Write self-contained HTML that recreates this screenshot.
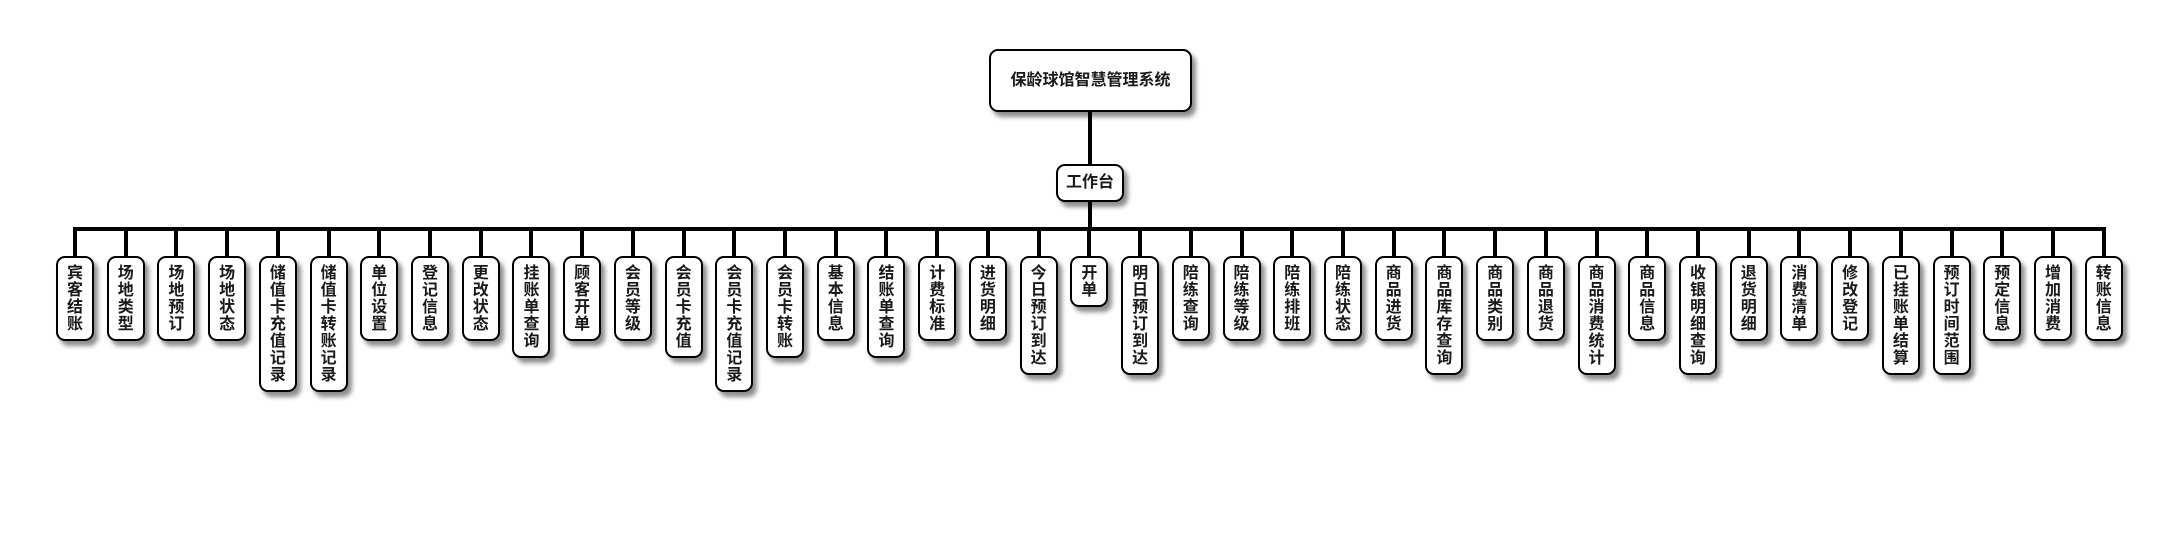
<!DOCTYPE html>
<html><head><meta charset="utf-8"><style>
html,body{margin:0;padding:0;background:#fff;}
body{width:2180px;height:560px;position:relative;overflow:hidden;font-family:"Liberation Sans","Noto Sans CJK SC",sans-serif;font-weight:bold;color:#1a1a1a;}
.box{position:absolute;background:#fff;border:2px solid #000;border-radius:9px;box-sizing:border-box;box-shadow:4px 5px 5px rgba(0,0,0,0.45);text-align:center;}
.line{position:absolute;background:#000;}
.row{position:absolute;left:49.64px;top:229px;display:flex;}
.col{width:50.725px;position:relative;display:flex;flex-direction:column;align-items:center;}
.stub{width:4px;height:29px;background:#000;margin-top:-2px;}
.n{width:38px;border:2px solid #000;border-radius:9px;box-sizing:border-box;background:#fff;box-shadow:4px 5px 5px rgba(0,0,0,0.45);padding:6.5px 8px;font-size:16px;line-height:17px;word-break:break-all;text-align:center;}
</style></head><body>
<div class="box" style="left:989px;top:49px;width:203px;height:63px;font-size:16px;line-height:59px;">保龄球馆智慧管理系统</div>
<div class="line" style="left:1088px;top:112px;width:4px;height:52px;"></div>
<div class="box" style="left:1056px;top:164px;width:68px;height:38px;font-size:16px;line-height:34px;">工作台</div>
<div class="line" style="left:1088px;top:202px;width:4px;height:27px;"></div>
<div class="line" style="left:73px;top:227px;width:2033px;height:4px;"></div>
<div class="row">
<div class="col"><div class="stub"></div><div class="n">宾客结账</div></div>
<div class="col"><div class="stub"></div><div class="n">场地类型</div></div>
<div class="col"><div class="stub"></div><div class="n">场地预订</div></div>
<div class="col"><div class="stub"></div><div class="n">场地状态</div></div>
<div class="col"><div class="stub"></div><div class="n">储值卡充值记录</div></div>
<div class="col"><div class="stub"></div><div class="n">储值卡转账记录</div></div>
<div class="col"><div class="stub"></div><div class="n">单位设置</div></div>
<div class="col"><div class="stub"></div><div class="n">登记信息</div></div>
<div class="col"><div class="stub"></div><div class="n">更改状态</div></div>
<div class="col"><div class="stub"></div><div class="n">挂账单查询</div></div>
<div class="col"><div class="stub"></div><div class="n">顾客开单</div></div>
<div class="col"><div class="stub"></div><div class="n">会员等级</div></div>
<div class="col"><div class="stub"></div><div class="n">会员卡充值</div></div>
<div class="col"><div class="stub"></div><div class="n">会员卡充值记录</div></div>
<div class="col"><div class="stub"></div><div class="n">会员卡转账</div></div>
<div class="col"><div class="stub"></div><div class="n">基本信息</div></div>
<div class="col"><div class="stub"></div><div class="n">结账单查询</div></div>
<div class="col"><div class="stub"></div><div class="n">计费标准</div></div>
<div class="col"><div class="stub"></div><div class="n">进货明细</div></div>
<div class="col"><div class="stub"></div><div class="n">今日预订到达</div></div>
<div class="col"><div class="stub"></div><div class="n">开单</div></div>
<div class="col"><div class="stub"></div><div class="n">明日预订到达</div></div>
<div class="col"><div class="stub"></div><div class="n">陪练查询</div></div>
<div class="col"><div class="stub"></div><div class="n">陪练等级</div></div>
<div class="col"><div class="stub"></div><div class="n">陪练排班</div></div>
<div class="col"><div class="stub"></div><div class="n">陪练状态</div></div>
<div class="col"><div class="stub"></div><div class="n">商品进货</div></div>
<div class="col"><div class="stub"></div><div class="n">商品库存查询</div></div>
<div class="col"><div class="stub"></div><div class="n">商品类别</div></div>
<div class="col"><div class="stub"></div><div class="n">商品退货</div></div>
<div class="col"><div class="stub"></div><div class="n">商品消费统计</div></div>
<div class="col"><div class="stub"></div><div class="n">商品信息</div></div>
<div class="col"><div class="stub"></div><div class="n">收银明细查询</div></div>
<div class="col"><div class="stub"></div><div class="n">退货明细</div></div>
<div class="col"><div class="stub"></div><div class="n">消费清单</div></div>
<div class="col"><div class="stub"></div><div class="n">修改登记</div></div>
<div class="col"><div class="stub"></div><div class="n">已挂账单结算</div></div>
<div class="col"><div class="stub"></div><div class="n">预订时间范围</div></div>
<div class="col"><div class="stub"></div><div class="n">预定信息</div></div>
<div class="col"><div class="stub"></div><div class="n">增加消费</div></div>
<div class="col"><div class="stub"></div><div class="n">转账信息</div></div>
</div>
</body></html>
